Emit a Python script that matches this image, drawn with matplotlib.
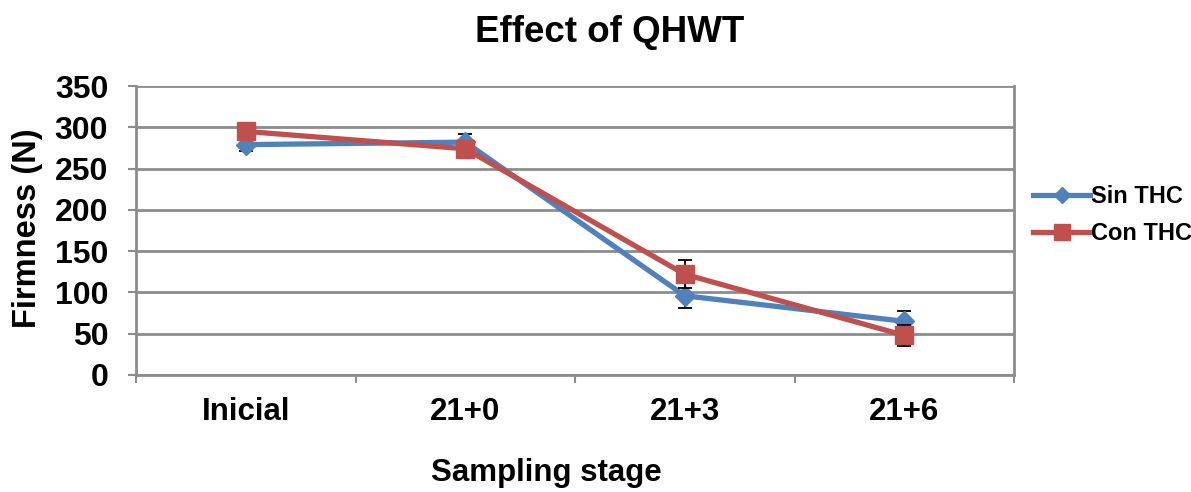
import matplotlib
matplotlib.use("Agg")
import matplotlib.pyplot as plt
from matplotlib.lines import Line2D
import numpy as np

categories = ["Inicial", "21+0", "21+3", "21+6"]
sin_thc = [279, 282, 96, 65]
sin_err = [8, 10, 15, 12]
con_thc = [295, 274, 122, 48]
con_err = [6, 6, 17, 13]
yticks = [0, 50, 100, 150, 200, 250, 300, 350]

plt.rcParams['font.family'] = ['Liberation Sans', 'DejaVu Sans']
plt.rcParams['font.weight'] = 'bold'

fig = plt.figure(figsize=(11.91, 4.92), dpi=100)
ax = fig.add_axes([136/1191, 1-375/492, (1014-136)/1191, (375-86)/492])

x = np.arange(len(categories))
blue = '#4F81BD'
red = '#C0504D'
gray = '#8C8C8C'

ax.errorbar(x, sin_thc, yerr=sin_err, color=blue, lw=3.8, marker='D', ms=10,
            ecolor='black', elinewidth=1.3, capsize=5, capthick=1.3, zorder=3)
ax.errorbar(x, con_thc, yerr=con_err, color=red, lw=3.8, marker='s', ms=13,
            ecolor='black', elinewidth=1.3, capsize=5, capthick=1.3, zorder=4)

ax.set_xlim(-0.5, 3.5)
ax.set_ylim(0, 350)
ax.set_yticks(yticks)
ax.set_xticks(x)
ax.set_xticklabels(categories, fontsize=22.5, fontweight='bold')
ax.set_xticks(np.arange(-0.5, 3.6, 1.0), minor=True)
ax.tick_params(axis='x', which='major', length=0, pad=16)
ax.tick_params(axis='x', which='minor', length=6, width=1.5, color=gray, direction='out')
ax.tick_params(axis='y', length=6, width=1.5, color=gray, direction='out', labelsize=23, pad=14)
for lbl in ax.get_yticklabels():
    lbl.set_fontweight('bold')

ax.grid(axis='y', color=gray, lw=2)
ax.set_axisbelow(True)
for side in ['left', 'right', 'bottom']:
    ax.spines[side].set_color(gray)
    ax.spines[side].set_linewidth(2)
ax.spines['top'].set_visible(False)

fig.text(546/1191, 1-473/492, 'Sampling stage', fontsize=22.5, fontweight='bold',
         ha='center', va='center')
fig.text(28/1191, 1-228/492, 'Firmness (N)', fontsize=23.5, fontweight='bold',
         ha='center', va='center', rotation=90)
fig.text(610/1191, 1-32/492, 'Effect of QHWT', fontsize=26.5, fontweight='bold',
         ha='center', va='center')

handles = [Line2D([], [], color=blue, lw=3.8, marker='D', ms=8),
           Line2D([], [], color=red, lw=3.8, marker='s', ms=11)]
leg = fig.legend(handles, ['Sin THC', 'Con THC'], loc='center left',
                 bbox_to_anchor=(1024/1191, 1-215/492), frameon=False,
                 prop={'size': 17, 'weight': 'bold'}, handlelength=2.4,
                 handletextpad=0.05, labelspacing=0.6, borderaxespad=0.0)

fig.savefig('out.png', dpi=100)
